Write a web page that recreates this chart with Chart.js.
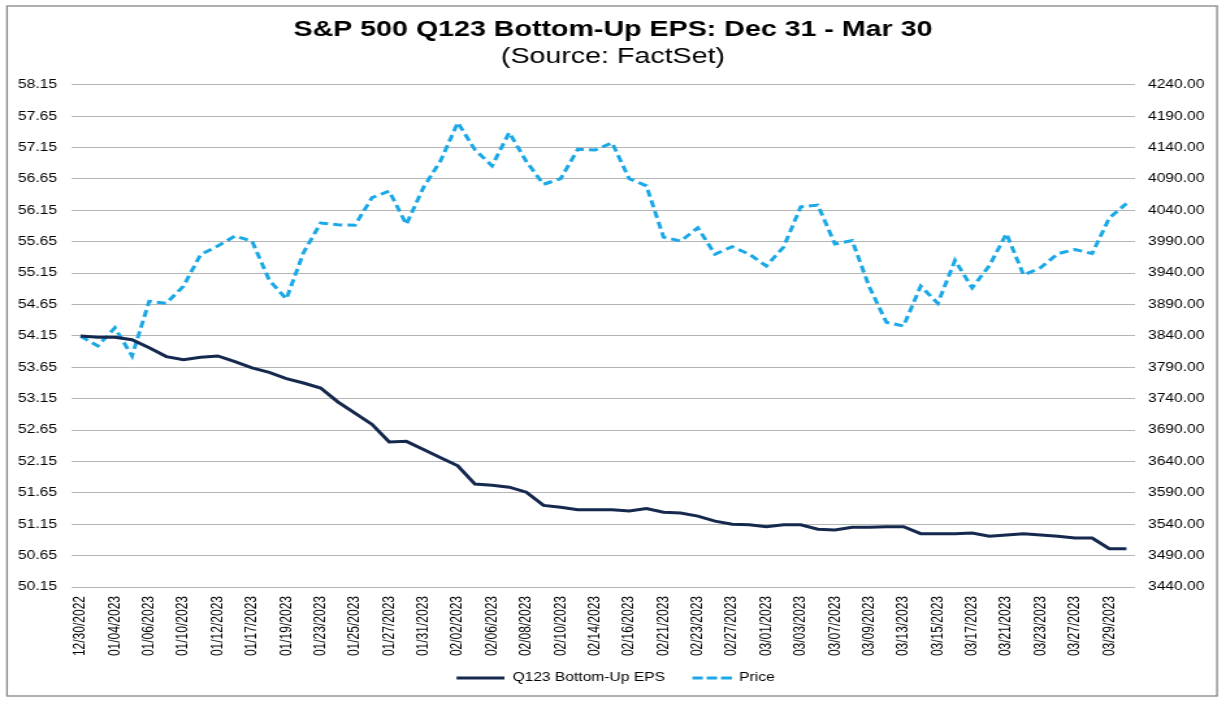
<!DOCTYPE html>
<html>
<head>
<meta charset="utf-8">
<script src="https://cdn.jsdelivr.net/npm/chart.js@4.4.1/dist/chart.umd.min.js"></script>
<style>
  html, body { margin: 0; padding: 0; background: #ffffff; overflow: hidden; }
  #wrap { position: relative; width: 1226px; height: 706px; overflow: hidden; }
  #c { display: block; transform: scaleX(1.300106); transform-origin: 0 0; }
</style>
</head>
<body>
<div id="wrap"><canvas id="c" width="943" height="706"></canvas></div>
<script>
const dates = [
  "12/30/2022","01/03/2023","01/04/2023","01/05/2023","01/06/2023","01/09/2023","01/10/2023","01/11/2023",
  "01/12/2023","01/13/2023","01/17/2023","01/18/2023","01/19/2023","01/20/2023","01/23/2023","01/24/2023",
  "01/25/2023","01/26/2023","01/27/2023","01/30/2023","01/31/2023","02/01/2023","02/02/2023","02/03/2023",
  "02/06/2023","02/07/2023","02/08/2023","02/09/2023","02/10/2023","02/13/2023","02/14/2023","02/15/2023",
  "02/16/2023","02/17/2023","02/21/2023","02/22/2023","02/23/2023","02/24/2023","02/27/2023","02/28/2023",
  "03/01/2023","03/02/2023","03/03/2023","03/06/2023","03/07/2023","03/08/2023","03/09/2023","03/10/2023",
  "03/13/2023","03/14/2023","03/15/2023","03/16/2023","03/17/2023","03/20/2023","03/21/2023","03/22/2023",
  "03/23/2023","03/24/2023","03/27/2023","03/28/2023","03/29/2023","03/30/2023"
];

const epsValues = [
  54.15, 54.13, 54.13, 54.09, 53.96, 53.82, 53.77, 53.81,
  53.83, 53.74, 53.64, 53.57, 53.47, 53.40, 53.32, 53.10,
  52.92, 52.74, 52.46, 52.47, 52.34, 52.21, 52.08, 51.79,
  51.77, 51.74, 51.66, 51.45, 51.42, 51.38, 51.38, 51.38,
  51.36, 51.40, 51.34, 51.33, 51.28, 51.20, 51.15, 51.14,
  51.11, 51.14, 51.14, 51.07, 51.06, 51.10, 51.10, 51.11,
  51.11, 51.00, 51.00, 51.00, 51.01, 50.96, 50.98, 51.00,
  50.98, 50.96, 50.93, 50.93, 50.76, 50.76
];

const priceValues = [
  3839.50, 3824.14, 3852.97, 3808.10, 3895.08, 3892.09, 3919.25, 3969.61,
  3983.17, 3999.09, 3990.97, 3928.86, 3898.85, 3972.61, 4019.81, 4016.95,
  4016.22, 4060.43, 4070.56, 4017.77, 4076.60, 4119.21, 4179.76, 4136.48,
  4111.08, 4164.00, 4117.86, 4081.50, 4090.46, 4137.29, 4136.13, 4147.60,
  4090.41, 4079.09, 3997.34, 3991.05, 4012.32, 3970.04, 3982.24, 3970.15,
  3951.39, 3981.35, 4045.64, 4048.42, 3986.37, 3992.01, 3918.32, 3861.59,
  3855.76, 3919.29, 3891.93, 3960.28, 3916.64, 3951.57, 4002.87, 3936.97,
  3948.72, 3970.99, 3977.53, 3971.27, 4027.81, 4050.83
];

const epsTicks = [50.15, 50.65, 51.15, 51.65, 52.15, 52.65, 53.15, 53.65, 54.15,
                  54.65, 55.15, 55.65, 56.15, 56.65, 57.15, 57.65, 58.15];
const priceTicks = [3440, 3490, 3540, 3590, 3640, 3690, 3740, 3790, 3840,
                    3890, 3940, 3990, 4040, 4090, 4140, 4190, 4240];

const FONT = "'Liberation Sans', Arial, sans-serif";
const EPS_COLOR = '#15284d';
const PRICE_COLOR = '#1aa8e6';

// legend line samples (drawn as legend point-style images)
function legendSample(color, dash, startX) {
  const cv = document.createElement('canvas');
  cv.width = 41; cv.height = 5;
  const g = cv.getContext('2d');
  g.strokeStyle = color;
  g.lineWidth = 3;
  g.setLineDash(dash);
  g.beginPath();
  g.moveTo(startX, 2.5);
  g.lineTo(41, 2.5);
  g.stroke();
  return cv;
}
const epsSample = legendSample(EPS_COLOR, [], 4);
const priceSample = legendSample(PRICE_COLOR, [8, 3], 11);

const frame = {
  id: 'frame',
  afterDraw(chart) {
    const ctx = chart.ctx;
    ctx.save();
    ctx.strokeStyle = '#858585';
    ctx.lineWidth = 1.3;
    ctx.strokeRect(5.4, 6, 930.7, 690);
    ctx.restore();
  }
};

new Chart(document.getElementById('c'), {
  type: 'line',
  data: {
    labels: dates,
    datasets: [
      {
        label: 'Q123 Bottom-Up EPS',
        data: epsValues,
        yAxisID: 'yL',
        borderColor: EPS_COLOR,
        backgroundColor: EPS_COLOR,
        borderWidth: 3,
        pointRadius: 0,
        pointStyle: epsSample,
        tension: 0
      },
      {
        label: 'Price',
        data: priceValues,
        yAxisID: 'yR',
        borderColor: PRICE_COLOR,
        backgroundColor: PRICE_COLOR,
        borderWidth: 3,
        borderDash: [7, 4],
        pointRadius: 0,
        pointStyle: priceSample,
        tension: 0
      }
    ]
  },
  options: {
    responsive: false,
    animation: false,
    devicePixelRatio: 1,
    layout: { padding: { top: 5, bottom: 12, left: 0, right: 0 } },
    plugins: {
      title: {
        display: true,
        text: 'S&P 500 Q123 Bottom-Up EPS: Dec 31 - Mar 30',
        color: '#000',
        font: { family: FONT, size: 22, weight: 'bold', lineHeight: 1.2 },
        padding: { top: 12, bottom: 0 }
      },
      subtitle: {
        display: true,
        text: '(Source: FactSet)',
        color: '#000',
        font: { family: FONT, size: 22, weight: 'normal', lineHeight: 1.2 },
        padding: { top: 0, bottom: 15 }
      },
      legend: {
        display: true,
        position: 'bottom',
        labels: {
          usePointStyle: true,
          pointStyleWidth: 41,
          boxHeight: 12,
          color: '#000',
          font: { family: FONT, size: 12 },
          padding: 10
        }
      },
      tooltip: { enabled: false }
    },
    scales: {
      x: {
        type: 'category',
        offset: true,
        grid: { display: false, drawTicks: false },
        border: { display: false },
        ticks: {
          autoSkip: false,
          minRotation: 90,
          maxRotation: 90,
          padding: 9,
          color: '#000',
          font: { family: FONT, size: 12 },
          callback: function (val, idx) { return idx % 2 === 0 ? dates[idx] : ''; }
        },
        afterFit(scale) { scale.height = 75; }
      },
      yL: {
        type: 'linear',
        position: 'left',
        min: 50.15,
        max: 58.15,
        afterBuildTicks(scale) { scale.ticks = epsTicks.map(v => ({ value: v })); },
        grid: { color: '#b5b5b5', lineWidth: 1, drawTicks: false },
        border: { display: false },
        ticks: {
          padding: 11.5,
          color: '#000',
          font: { family: FONT, size: 12 },
          callback: v => Number(v).toFixed(2)
        },
        afterFit(scale) { scale.width = 55.4; }
      },
      yR: {
        type: 'linear',
        position: 'right',
        min: 3440,
        max: 4240,
        afterBuildTicks(scale) { scale.ticks = priceTicks.map(v => ({ value: v })); },
        grid: { drawOnChartArea: false, drawTicks: false },
        border: { display: false },
        ticks: {
          padding: 10,
          color: '#000',
          font: { family: FONT, size: 12 },
          callback: v => Number(v).toFixed(2)
        },
        afterFit(scale) { scale.width = 70; }
      }
    }
  },
  plugins: [frame]
});
</script>
</body>
</html>
